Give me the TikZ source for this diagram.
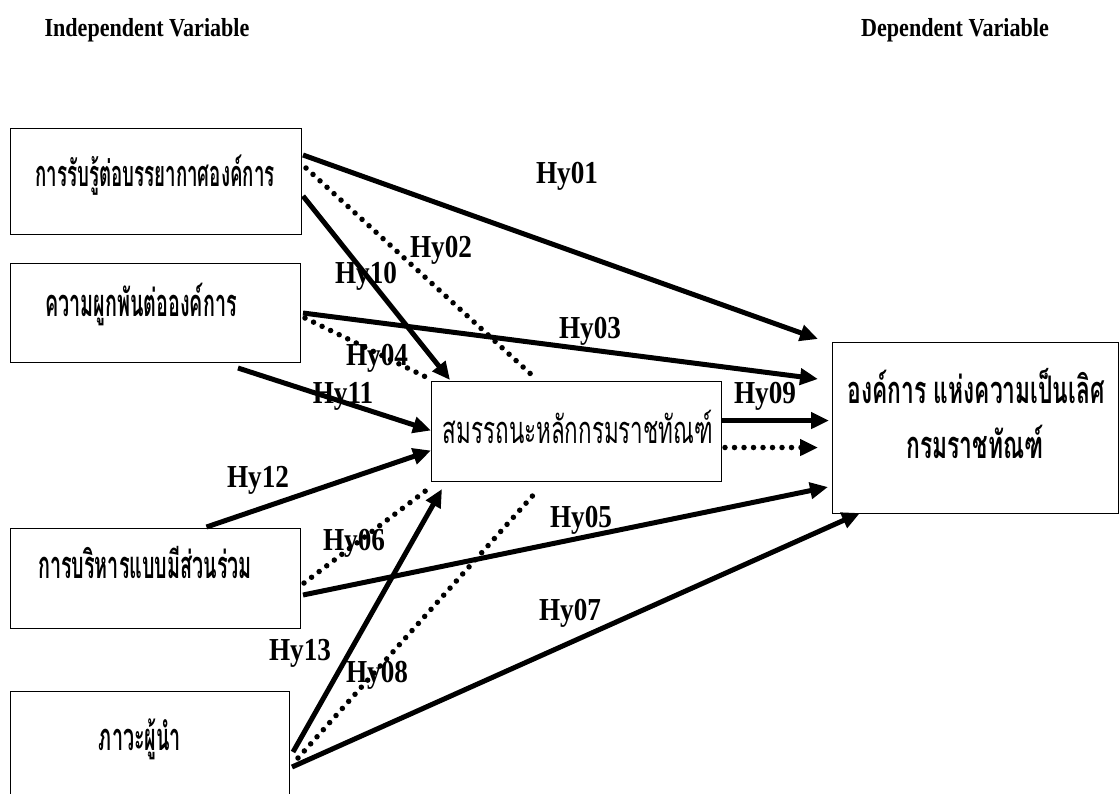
\documentclass[tikz,border=0pt]{standalone}
\usepackage{fontspec}
\setmainfont{Liberation Serif}
\newfontfamily\labfont[FakeStretch=0.85]{Liberation Serif}
\newfontfamily\thaifont[Script=Thai,FakeStretch=0.52]{Loma}
\newfontfamily\thaimid[Script=Thai,FakeStretch=0.59]{Loma}
\newfontfamily\thaiwide[Script=Thai,FakeStretch=0.6]{Loma}
\usetikzlibrary{arrows.meta}
\tikzset{
  varbox/.style={draw, line width=1pt, anchor=north west, inner sep=0pt},
  hylab/.style={font=\labfont\fontsize{32}{34}\selectfont\bfseries, anchor=base, inner sep=0pt},
  thtxt/.style={font=\thaifont\fontsize{38}{40}\selectfont\bfseries, anchor=base, inner sep=0pt},
  head/.style={font=\labfont\fontsize{26}{28}\selectfont\bfseries, anchor=base, inner sep=0pt},
  hyarrow/.style={line width=5pt, -{Triangle[length=18pt,width=16pt]}},
  hydots/.style={line width=5.5pt, line cap=round, dash pattern=on 0pt off 9.5pt}
}
\begin{document}
\begin{tikzpicture}[x=1pt,y=-1pt]
    \useasboundingbox (0,0) rectangle (1119,793);
    \clip (0,0) rectangle (1119,793);
    % headings
    \node[head] (indep) at (147,36) {Independent Variable};
    \node[head] (dep) at (955,36) {Dependent Variable};
    % boxes
    \node[varbox, minimum width=291pt, minimum height=106pt] (perc) at (10,128) {};
    \node[varbox, minimum width=290pt, minimum height=99pt] (comm) at (10,263) {};
    \node[varbox, minimum width=290pt, minimum height=100pt] (part) at (10,528) {};
    \node[varbox, minimum width=279pt, minimum height=130pt] (lead) at (10,691) {};
    \node[varbox, minimum width=290pt, minimum height=100pt] (comp) at (431,381) {};
    \node[varbox, minimum width=286pt, minimum height=171pt] (excel) at (832,342) {};
    % box texts
    \node[thtxt, font=\thaifont\fontsize{36}{38}\selectfont\bfseries] (percT) at (155,186) {การรับรู้ต่อบรรยากาศองค์การ};
    \node[thtxt] (commT) at (141,316) {ความผูกพันต่อองค์การ};
    \node[thtxt] (partT) at (145,578) {การบริหารแบบมีส่วนร่วม};
    \node[thtxt] (leadT) at (140,750) {ภาวะผู้นำ};
    \node[thtxt, font=\thaimid\fontsize{38}{40}\selectfont] (compT) at (578,443) {สมรรถนะหลักกรมราชทัณฑ์};
    \node[thtxt, font=\thaiwide\fontsize{38}{40}\selectfont\bfseries] (excelT) at (976,403) {องค์การ แห่งความเป็นเลิศ};
    \node[thtxt, font=\thaiwide\fontsize{38}{40}\selectfont\bfseries] (excelU) at (975,458) {กรมราชทัณฑ์};
    % paths to the dependent variable
    \draw[hyarrow] ([xshift=1pt,yshift=-27pt]perc.north east) -- ([xshift=-14pt,yshift=3pt]excel.north west);
    \draw[hyarrow] ([xshift=2pt,yshift=-50pt]comm.north east) -- ([xshift=-14pt,yshift=-37pt]excel.north west);
    \draw[hyarrow] ([xshift=2pt,yshift=-67pt]part.north east) -- ([xshift=-4pt,yshift=27pt]excel.south west);
    \draw[hyarrow] ([xshift=2pt,yshift=-76pt]lead.north east) -- ([xshift=28pt,yshift=1pt]excel.south west);
    \draw[hyarrow] ([yshift=11pt]comp.east) -- ([xshift=-3pt,yshift=7.5pt]excel.west);
    \draw[hydots, -{Triangle[length=18pt,width=16pt]}] ([xshift=3pt,yshift=-16pt]comp.east) -- ([xshift=-14pt,yshift=-19.5pt]excel.west);
    % paths to the mediator
    \draw[hyarrow] ([xshift=1pt,yshift=-68pt]perc.north east) -- ([xshift=19pt,yshift=1pt]comp.north west);
    \draw[hyarrow] ([xshift=-63pt,yshift=-5pt]comm.south east) -- ([yshift=1pt]comp.west);
    \draw[hyarrow] ([xshift=51pt,yshift=1pt]part.north) -- ([yshift=-19pt]comp.west);
    \draw[hyarrow] ([xshift=3pt,yshift=-61pt]lead.north east) -- ([xshift=11pt,yshift=-7pt]comp.south west);
    % dotted paths
    \draw[hydots] ([xshift=4pt,yshift=-40pt]perc.north east) -- ([xshift=103pt,yshift=4pt]comp.north west);
    \draw[hydots] ([xshift=4pt,yshift=-55pt]comm.north east) -- ([xshift=-3pt,yshift=3pt]comp.north west);
    \draw[hydots] ([xshift=3pt,yshift=-55pt]part.north east) -- ([xshift=-3pt,yshift=-7pt]comp.south west);
    \draw[hydots] ([xshift=8pt,yshift=-67pt]lead.north east) -- ([xshift=105pt,yshift=-10pt]comp.south west);
    % labels
    \node[hylab] (h01) at (567,183) {Hy01};
    \node[hylab] (h02) at (441,257) {Hy02};
    \node[hylab] (h10) at (366,283) {Hy10};
    \node[hylab] (h03) at (590,338) {Hy03};
    \node[hylab] (h04) at (377,365) {Hy04};
    \node[hylab] (h11) at (343,403) {Hy11};
    \node[hylab] (h09) at (765,403) {Hy09};
    \node[hylab] (h12) at (258,487) {Hy12};
    \node[hylab] (h05) at (581,527) {Hy05};
    \node[hylab] (h06) at (354,550) {Hy06};
    \node[hylab] (h07) at (570,620) {Hy07};
    \node[hylab] (h13) at (300,660) {Hy13};
    \node[hylab] (h08) at (377,682) {Hy08};
\end{tikzpicture}
\end{document}
